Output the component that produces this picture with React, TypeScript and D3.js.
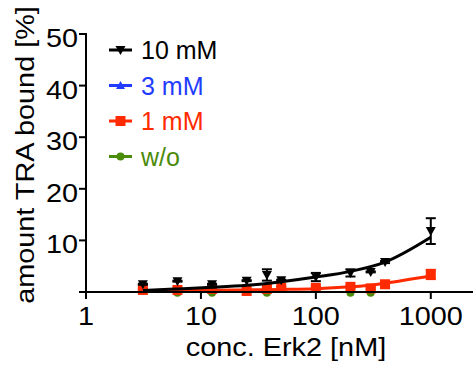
import React from "react";
import * as d3 from "d3";

// concentrations of Erk2 [nM]
const conc = [3.125, 6.25, 12.5, 25, 37.5, 50, 100, 200, 300, 400, 1000];

// amount TRA bound [%]
const tenMM = [1.5, 2.1, 1.5, 2.2, 3.3, 2.3, 2.9, 3.7, 3.9, 5.8, 11.8];
const tenMMErr = [0.1, 0.1, 0.1, 0.1, 1.1, 0.1, 0.8, 0.7, 0.1, 0.2, 2.5];
const threeMM = [0.4, 0.4, 0.6, 0.2, 0.6, 0.8, 0.8, 1.0, 0.7, 1.5, 3.3];
const oneMM = [0.4, 0.4, 0.6, 0.2, 0.6, 0.8, 0.8, 1.0, 0.7, 1.5, 3.4];
const oneMMErr = [0.2, 0.2, 0.2, 0.2, 0.2, 0.2, 0.2, 0.2, 0.2, 0.3, 0.9];
const woConc = [6.25, 12.5, 37.5, 200, 300];
const wo = [-0.15, -0.15, -0.15, -0.15, -0.15];

// fitted curves
const tenMMFitX = [3.125, 6.25, 12.5, 25, 50, 100, 200, 400, 1000];
const tenMMFitY = [0.3, 0.6, 0.9, 1.3, 2.0, 2.9, 4.0, 5.8, 10.6];
const oneMMFitX = [3.125, 12.5, 50, 100, 200, 300, 400, 1000];
const oneMMFitY = [0.3, 0.35, 0.5, 0.65, 1.0, 1.3, 1.7, 3.1];

const xTicks = [1, 10, 100, 1000];
const yTicks = [0, 10, 20, 30, 40, 50];

const legendLabels = ["10 mM", "3 mM", "1 mM", "w/o"];
const colors = ["#000000", "#1f3cff", "#ff2a00", "#4b8b0a"];

const W = 473;
const H = 365;
const font = "'Liberation Sans', Arial, sans-serif";
const stretch = 1.11;

const x = d3.scaleLog().domain([1, 2330]).range([86, 473]);
const y = d3.scaleLinear().domain([0, 50]).range([292, 34]);

const Marker = ({ kind, cx, cy, color }) => {
  if (kind === "down") {
    const s = 5;
    return <path d={`M${cx - s},${cy - s * 0.8}L${cx + s},${cy - s * 0.8}L${cx},${cy + s}Z`} fill={color} />;
  }
  if (kind === "up") {
    const s = 4.5;
    return <path d={`M${cx - s},${cy + s * 0.8}L${cx + s},${cy + s * 0.8}L${cx},${cy - s}Z`} fill={color} />;
  }
  if (kind === "square") {
    return <rect x={cx - 5} y={cy - 5} width={10} height={10} fill={color} />;
  }
  return <circle cx={cx} cy={cy} r={4} fill={color} />;
};

const ErrorBars = ({ xs, ys, errs, color }) => (
  <g stroke={color} strokeWidth={2}>
    {xs.map((c, i) => {
      const px = x(c);
      const top = y(ys[i] + errs[i]);
      const bot = y(ys[i] - errs[i]);
      return (
        <g key={i}>
          <line x1={px} x2={px} y1={top} y2={bot} />
          <line x1={px - 5} x2={px + 5} y1={top} y2={top} />
          <line x1={px - 5} x2={px + 5} y1={bot} y2={bot} />
        </g>
      );
    })}
  </g>
);

const fitLine = d3
  .line<number[]>()
  .x((d) => d[0])
  .y((d) => d[1])
  .curve(d3.curveMonotoneX);

const fitPath = (xs, ys) => fitLine(xs.map((c, i) => [x(c), y(ys[i])]));

export default function App() {
  const kinds = ["down", "up", "square", "circle"];
  return (
    <svg
      width={W}
      height={H}
      style={{ position: "absolute", left: 0, top: 0, background: "#fff" }}
      fontFamily={font}
    >
      {/* green w/o */}
      {woConc.map((c, i) => (
        <Marker key={"g" + i} kind="circle" cx={x(c)} cy={y(wo[i])} color={colors[3]} />
      ))}

      {/* blue 3 mM */}
      {conc.map((c, i) => (
        <Marker key={"b" + i} kind="up" cx={x(c)} cy={y(threeMM[i])} color={colors[1]} />
      ))}

      {/* red 1 mM */}
      <path d={fitPath(oneMMFitX, oneMMFitY)} fill="none" stroke={colors[2]} strokeWidth={3} />
      <ErrorBars xs={conc} ys={oneMM} errs={oneMMErr} color={colors[2]} />
      {conc.map((c, i) => (
        <Marker key={"r" + i} kind="square" cx={x(c)} cy={y(oneMM[i])} color={colors[2]} />
      ))}

      {/* black 10 mM */}
      <path d={fitPath(tenMMFitX, tenMMFitY)} fill="none" stroke={colors[0]} strokeWidth={3} />
      <ErrorBars xs={conc} ys={tenMM} errs={tenMMErr} color={colors[0]} />
      {conc.map((c, i) => (
        <Marker key={"k" + i} kind="down" cx={x(c)} cy={y(tenMM[i])} color={colors[0]} />
      ))}

      {/* axes */}
      <g stroke="#000" strokeWidth={2}>
        <line x1={x(1)} x2={W} y1={y(0)} y2={y(0)} />
        <line x1={x(1)} x2={x(1)} y1={y(50) - 1} y2={y(0) + 1} />
        {xTicks.map((t) => (
          <line key={t} x1={x(t)} x2={x(t)} y1={y(0)} y2={y(0) + 7} />
        ))}
        {yTicks.map((t) => (
          <line key={t} x1={x(1) - 7} x2={x(1)} y1={y(t)} y2={y(t)} />
        ))}
      </g>
      {xTicks.map((t) => (
        <text
          key={t}
          transform={`translate(${x(t)},${y(0) + 33}) scale(${stretch},1)`}
          textAnchor="middle"
          fontSize={26}
          fill="#000"
        >
          {t}
        </text>
      ))}
      {yTicks
        .filter((t) => t > 0)
        .map((t) => (
          <text
            key={t}
            transform={`translate(${x(1) - 8},${y(t) + 13}) scale(${stretch},1)`}
            textAnchor="end"
            fontSize={26}
            fill="#000"
          >
            {t}
          </text>
        ))}

      <text
        transform={`translate(286,356) scale(${stretch},1)`}
        textAnchor="middle"
        fontSize={26}
        fill="#000"
      >
        conc. Erk2 [nM]
      </text>
      <text
        transform={`translate(33.5,155) rotate(-90) scale(${stretch},1)`}
        textAnchor="middle"
        fontSize={26}
        fill="#000"
      >
        amount TRA bound [%]
      </text>

      {/* legend */}
      {legendLabels.map((lab, i) => {
        const ly = 50 + i * 35.5;
        return (
          <g key={lab}>
            <line x1={109} x2={132} y1={ly} y2={ly} stroke={colors[i]} strokeWidth={3} />
            <Marker kind={kinds[i]} cx={120.5} cy={ly} color={colors[i]} />
            <text x={141} y={ly + 9} fontSize={25} fill={colors[i]}>
              {lab}
            </text>
          </g>
        );
      })}
    </svg>
  );
}
